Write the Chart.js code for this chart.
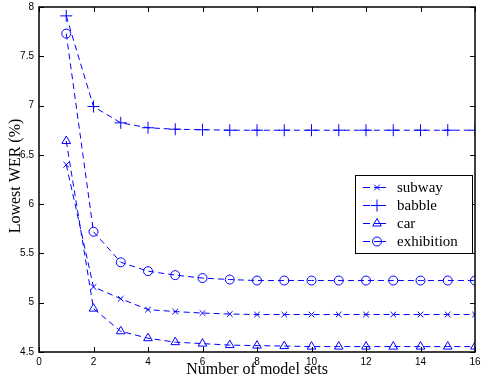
<!DOCTYPE html>
<html>
<head>
<meta charset="utf-8">
<script src="https://cdn.jsdelivr.net/npm/chart.js@4/dist/chart.umd.min.js"></script>
<style>
  html, body { margin: 0; padding: 0; background: #fff; }
  #wrap { width: 482px; height: 381px; position: relative; }
</style>
</head>
<body>
<div id="wrap"><canvas id="c" width="482" height="381"></canvas></div>
<script>
const modelSets = [1, 2, 3, 4, 5, 6, 7, 8, 9, 10, 11, 12, 13, 14, 15, 16];
const subway = [6.40, 5.16, 5.04, 4.93, 4.91, 4.895, 4.885, 4.88, 4.88, 4.88, 4.88, 4.88, 4.88, 4.88, 4.88, 4.88];
const babble = [7.91, 6.99, 6.825, 6.775, 6.76, 6.755, 6.75, 6.75, 6.75, 6.75, 6.75, 6.75, 6.75, 6.75, 6.75, 6.75];
const car = [6.64, 4.94, 4.71, 4.64, 4.60, 4.585, 4.57, 4.565, 4.56, 4.555, 4.555, 4.555, 4.555, 4.555, 4.555, 4.555];
const exhibition = [7.73, 5.72, 5.41, 5.32, 5.28, 5.25, 5.235, 5.225, 5.225, 5.225, 5.225, 5.225, 5.225, 5.225, 5.225, 5.225];
const seriesNames = ['subway', 'babble', 'car', 'exhibition'];
const xTicks = [0, 2, 4, 6, 8, 10, 12, 14, 16];
const yTicks = [4.5, 5, 5.5, 6, 6.5, 7, 7.5, 8];
const xTitle = 'Number of model sets';
const yTitle = 'Lowest WER (%)';

const BLUE = '#0000ff';
const styles = [
  { pointStyle: 'crossRot', r: 4 },
  { pointStyle: 'cross', r: 6 },
  { pointStyle: 'triangle', r: 5 },
  { pointStyle: 'circle', r: 4.5 }
];
const seriesData = [subway, babble, car, exhibition];

const datasets = seriesData.map((arr, i) => ({
  label: seriesNames[i],
  data: arr.map((v, j) => ({ x: modelSets[j], y: v })),
  borderColor: BLUE,
  borderWidth: 1,
  borderDash: [6, 4],
  pointStyle: styles[i].pointStyle,
  pointRadius: styles[i].r,
  pointHoverRadius: styles[i].r,
  pointBorderColor: BLUE,
  pointBackgroundColor: 'rgba(0,0,0,0)',
  pointBorderWidth: 1,
  tension: 0,
  fill: false
}));

const framePlugin = {
  id: 'frame',
  afterDraw(chart) {
    const { ctx, chartArea: a, scales } = chart;
    const xs = scales.x, ys = scales.y;
    ctx.save();
    ctx.strokeStyle = '#000';
    ctx.lineWidth = 1.5;
    ctx.strokeRect(a.left, a.top, a.right - a.left, a.bottom - a.top);
    ctx.lineWidth = 1;
    ctx.beginPath();
    const tl = 5;
    xTicks.forEach(v => {
      const px = Math.round(xs.getPixelForValue(v)) + 0.5;
      ctx.moveTo(px, a.bottom); ctx.lineTo(px, a.bottom - tl);
      ctx.moveTo(px, a.top); ctx.lineTo(px, a.top + tl);
    });
    yTicks.forEach(v => {
      const py = Math.round(ys.getPixelForValue(v)) + 0.5;
      ctx.moveTo(a.left, py); ctx.lineTo(a.left + tl, py);
      ctx.moveTo(a.right, py); ctx.lineTo(a.right - tl, py);
    });
    ctx.stroke();

    // axis titles
    ctx.fillStyle = '#000';
    ctx.font = '16px "Liberation Serif", "Times New Roman", serif';
    ctx.textAlign = 'center';
    ctx.textBaseline = 'middle';
    ctx.fillText(xTitle, 257, 370);
    ctx.save();
    ctx.translate(16, 176);
    ctx.rotate(-Math.PI / 2);
    ctx.fillText(yTitle, 0, 0);
    ctx.restore();

    // legend
    const bx = 355, by = 175, bw = 117, bh = 78;
    ctx.fillStyle = '#fff';
    ctx.fillRect(bx, by, bw, bh);
    ctx.strokeStyle = '#000';
    ctx.lineWidth = 1;
    ctx.strokeRect(bx + 0.5, by + 0.5, bw, bh);
    const rows = [187, 205, 223, 241];
    ctx.font = '15px "Liberation Serif", "Times New Roman", serif';
    ctx.textAlign = 'left';
    ctx.textBaseline = 'middle';
    chart.data.datasets.forEach((ds, i) => {
      const y = rows[i] + 0.5;
      ctx.strokeStyle = BLUE;
      ctx.lineWidth = 1;
      ctx.beginPath();
      ctx.moveTo(363, y); ctx.lineTo(370, y);
      ctx.moveTo(374, y); ctx.lineTo(386, y);
      ctx.stroke();
      ctx.fillStyle = 'rgba(0,0,0,0)';
      ctx.strokeStyle = BLUE;
      Chart.helpers.drawPoint(ctx, {
        pointStyle: ds.pointStyle, radius: ds.pointRadius, rotation: 0, borderWidth: 1
      }, 377, y);
      ctx.fillStyle = '#000';
      ctx.fillText(ds.label, 397, rows[i] + 1);
    });
    ctx.restore();
  }
};

const fmt = v => String(Number(v));

new Chart(document.getElementById('c'), {
  type: 'line',
  data: { datasets },
  options: {
    responsive: false,
    animation: false,
    devicePixelRatio: 1,
    layout: { padding: { top: 4, right: 3, left: 0, bottom: 0 } },
    plugins: { legend: { display: false }, tooltip: { enabled: false } },
    scales: {
      x: {
        type: 'linear', min: 0, max: 16,
        afterFit(s) { s.height = 29; s.paddingLeft = 0; s.paddingRight = 0; },
        afterBuildTicks(s) { s.ticks = xTicks.map(v => ({ value: v })); },
        grid: { display: false, drawTicks: false },
        border: { display: false },
        ticks: { color: '#000', padding: 4, maxRotation: 0, autoSkip: false, callback: fmt,
          font: { family: '"Liberation Sans", Arial, sans-serif', size: 10 } }
      },
      y: {
        type: 'linear', min: 4.5, max: 8,
        afterFit(s) { s.width = 39; s.paddingTop = 0; s.paddingBottom = 0; },
        afterBuildTicks(s) { s.ticks = yTicks.map(v => ({ value: v })); },
        grid: { display: false, drawTicks: false },
        border: { display: false },
        ticks: { color: '#000', padding: 5, autoSkip: false, callback: fmt,
          font: { family: '"Liberation Sans", Arial, sans-serif', size: 10 } }
      }
    }
  },
  plugins: [framePlugin]
});
</script>
</body>
</html>
